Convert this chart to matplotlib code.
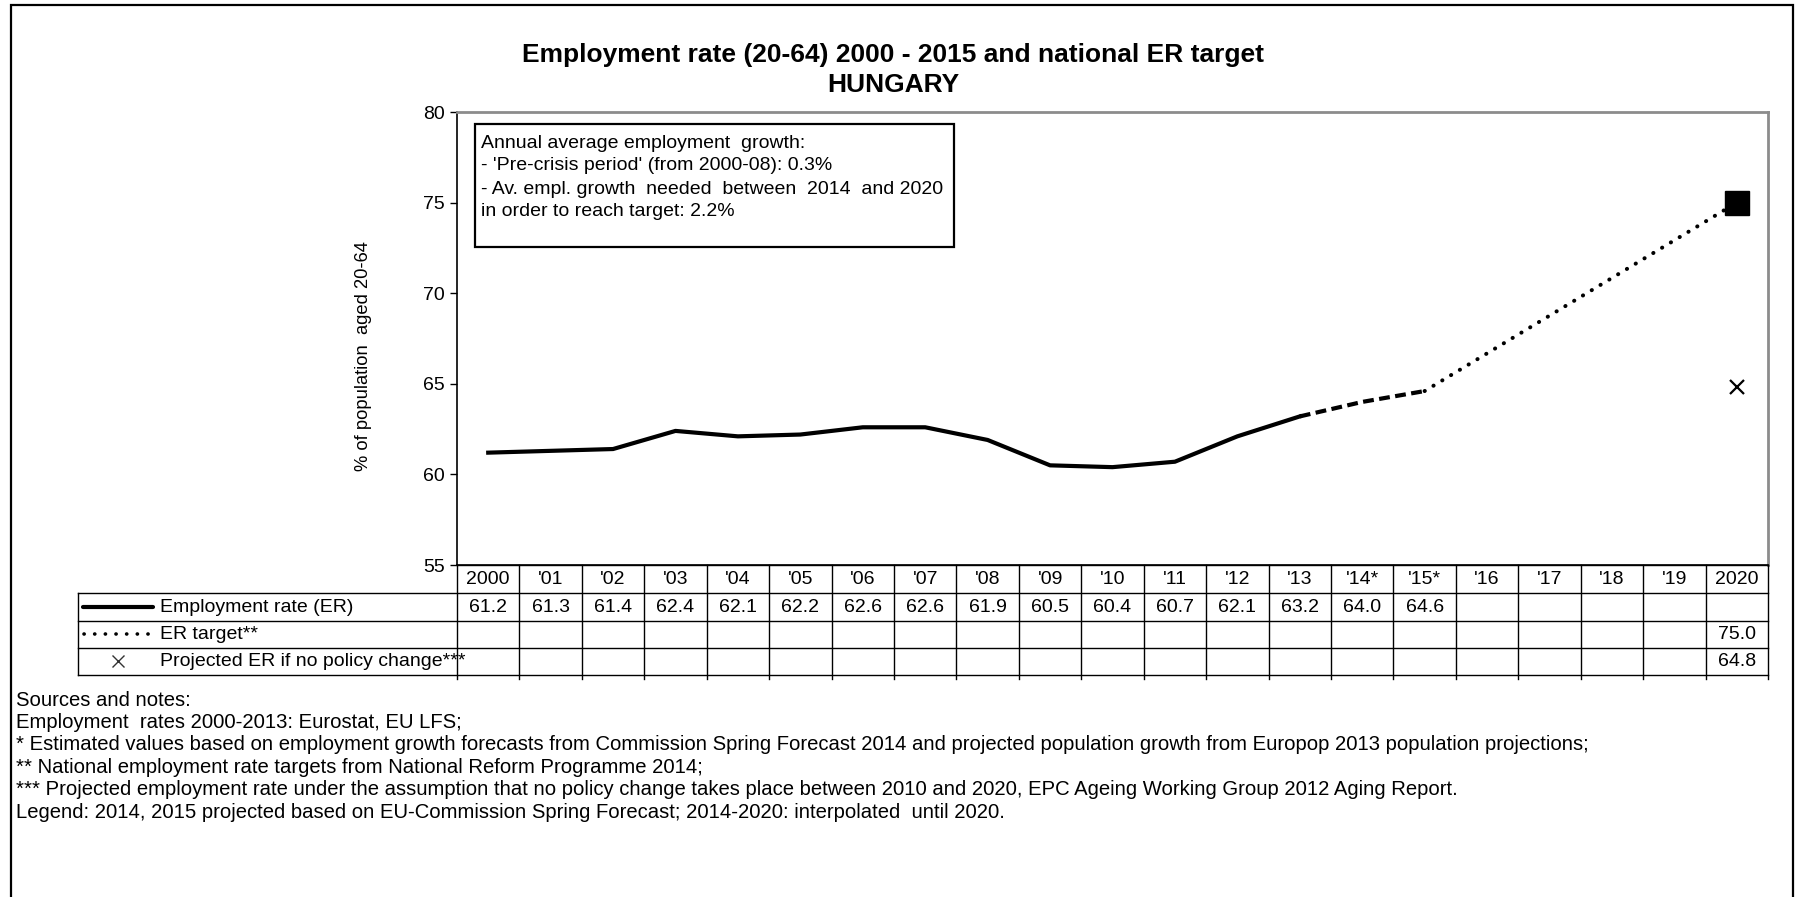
import matplotlib
matplotlib.use("Agg")
import matplotlib.pyplot as plt
import matplotlib.transforms as mtransforms
from matplotlib.patches import Rectangle
from matplotlib.lines import Line2D

plt.rcParams['font.family'] = ['Liberation Sans', 'DejaVu Sans']

# ---- data -------------------------------------------------------------
years = list(range(2000, 2021))
year_labels = ['2000', "'01", "'02", "'03", "'04", "'05", "'06", "'07", "'08",
               "'09", "'10", "'11", "'12", "'13", "'14*", "'15*", "'16", "'17",
               "'18", "'19", "2020"]
er_years = list(range(2000, 2016))
er_values = [61.2, 61.3, 61.4, 62.4, 62.1, 62.2, 62.6, 62.6, 61.9, 60.5,
             60.4, 60.7, 62.1, 63.2, 64.0, 64.6]
last_observed_year = 2013
target_year = 2020
target_value = 75.0
projected_value = 64.8

row_labels = ['Employment rate (ER)', 'ER target**',
              'Projected ER if no policy change***']
title_lines = ['Employment rate (20-64) 2000 - 2015 and national ER target',
               'HUNGARY']
info_lines = ["Annual average employment  growth:",
              "- 'Pre-crisis period' (from 2000-08): 0.3%",
              "- Av. empl. growth  needed  between  2014  and 2020",
              "in order to reach target: 2.2%"]
notes = ["Sources and notes:",
         "Employment  rates 2000-2013: Eurostat, EU LFS;",
         "* Estimated values based on employment growth forecasts from Commission Spring Forecast 2014 and projected population growth from Europop 2013 population projections;",
         "** National employment rate targets from National Reform Programme 2014;",
         "*** Projected employment rate under the assumption that no policy change takes place between 2010 and 2020, EPC Ageing Working Group 2012 Aging Report.",
         "Legend: 2014, 2015 projected based on EU-Commission Spring Forecast; 2014-2020: interpolated  until 2020."]

# ---- figure / layout (pixel geometry) -----------------------------------
W, H = 1800, 897
fig = plt.figure(figsize=(W / 100, H / 100), dpi=100)

px_left, px_right, px_top, px_bottom = 457, 1768, 112, 565
ax = fig.add_axes([px_left / W, 1 - px_bottom / H,
                   (px_right - px_left) / W, (px_bottom - px_top) / H])

# full-figure overlay in pixel units for the table, frame and notes
ov = fig.add_axes([0, 0, 1, 1], zorder=2)
ov.set_xlim(0, W)
ov.set_ylim(H, 0)
ov.axis('off')
ov.patch.set_visible(False)

idx = {y: i for i, y in enumerate(years)}
x_er = [idx[y] for y in er_years]
k = er_years.index(last_observed_year)

ax.plot(x_er[:k + 1], er_values[:k + 1], color='black', lw=3,
        solid_joinstyle='round', zorder=3)
ax.plot(x_er[k:], er_values[k:], color='black', lw=3, linestyle=(0, (2.6, 1.3)),
        dash_capstyle='butt', zorder=3)
ax.plot([x_er[-1], idx[target_year]], [er_values[-1], target_value], color='black',
        lw=2.9, linestyle=(0, (0.05, 2.5)), dash_capstyle='round', zorder=3)
ax.plot([idx[target_year]], [target_value], marker='s', color='black',
        markersize=17.5, linestyle='none', zorder=4)
ax.plot([idx[target_year]], [projected_value], marker='x', color='black',
        markersize=9.5, markeredgewidth=1.6, linestyle='none', zorder=4)

ax.set_xlim(-0.5, len(years) - 0.5)
ax.set_ylim(55, 80)
ax.set_yticks(range(55, 81, 5))
ax.set_xticks([])
ax.tick_params(axis='y', direction='out', length=5, width=1, labelsize=14,
               pad=4, colors='black')
for s in ('top', 'right'):
    ax.spines[s].set_color('#8c8c8c')
    ax.spines[s].set_linewidth(2)
ax.spines['left'].set_linewidth(1.2)
ax.spines['bottom'].set_linewidth(1.2)

# y-axis caption
ov.text(363, 356, '% of population  aged 20-64', rotation=90, fontsize=13.2,
        ha='center', va='center')

# info box
ov.add_patch(Rectangle((475, 124), 954 - 475, 247 - 124, fill=False,
                       edgecolor='black', lw=1.6))
for i, line in enumerate(info_lines):
    ov.text(481, 143 + i * 23, line, fontsize=14, va='center', ha='left')

# title
ov.text(893, 55, title_lines[0], fontsize=19, fontweight='bold',
        ha='center', va='center')
ov.text(893, 85, title_lines[1], fontsize=19, fontweight='bold',
        ha='center', va='center')

# ---- data table ---------------------------------------------------------
row_edges = [565, 593, 621, 648, 675]
tbl_left = 78
colx = mtransforms.blended_transform_factory(ax.transData, ov.transData)
lk = dict(color='black', lw=1, clip_on=False)

ov.add_line(Line2D([px_left, px_right], [row_edges[0]] * 2, **lk))
for ye in row_edges[1:]:
    ov.add_line(Line2D([tbl_left, px_right], [ye, ye], **lk))
ov.add_line(Line2D([tbl_left, tbl_left], [row_edges[1], row_edges[-1]], **lk))
for i in range(len(years) + 1):
    ov.add_line(Line2D([i - 0.5, i - 0.5], [row_edges[0], row_edges[-1] + 4],
                       color='black', lw=1, transform=colx, clip_on=False))

def row_mid(r):
    return (row_edges[r] + row_edges[r + 1]) / 2

for i, lab in enumerate(year_labels):
    ov.text(i, row_mid(0), lab, transform=colx, ha='center', va='center',
            fontsize=14)
for y, v in zip(er_years, er_values):
    ov.text(idx[y], row_mid(1), f'{v:.1f}', transform=colx, ha='center',
            va='center', fontsize=14)
ov.text(idx[target_year], row_mid(2), f'{target_value:.1f}', transform=colx,
        ha='center', va='center', fontsize=14)
ov.text(idx[target_year], row_mid(3), f'{projected_value:.1f}', transform=colx,
        ha='center', va='center', fontsize=14)

# legend keys in the table
ov.add_line(Line2D([83, 153], [row_mid(1)] * 2, color='black', lw=3,
                   solid_capstyle='round'))
ov.add_line(Line2D([84, 153], [row_mid(2)] * 2, color='black', lw=2.6,
                   linestyle=(0, (0.05, 2.9)), dash_capstyle='round'))
ov.plot([118], [row_mid(3)], marker='x', color='#333333', markersize=8,
        markeredgewidth=1)
for r, lab in enumerate(row_labels, start=1):
    ov.text(160, row_mid(r), lab, ha='left', va='center', fontsize=14)

# ---- notes --------------------------------------------------------------
for i, line in enumerate(notes):
    ov.text(16, 700 + i * 22.4, line, ha='left', va='center', fontsize=14.6)

# outer frame
ov.add_line(Line2D([11, 11, 1793, 1793], [H + 5, 5, 5, H + 5], color='black',
                   lw=1.6, solid_joinstyle='miter'))

fig.savefig('out.png', dpi=100, facecolor='white')
